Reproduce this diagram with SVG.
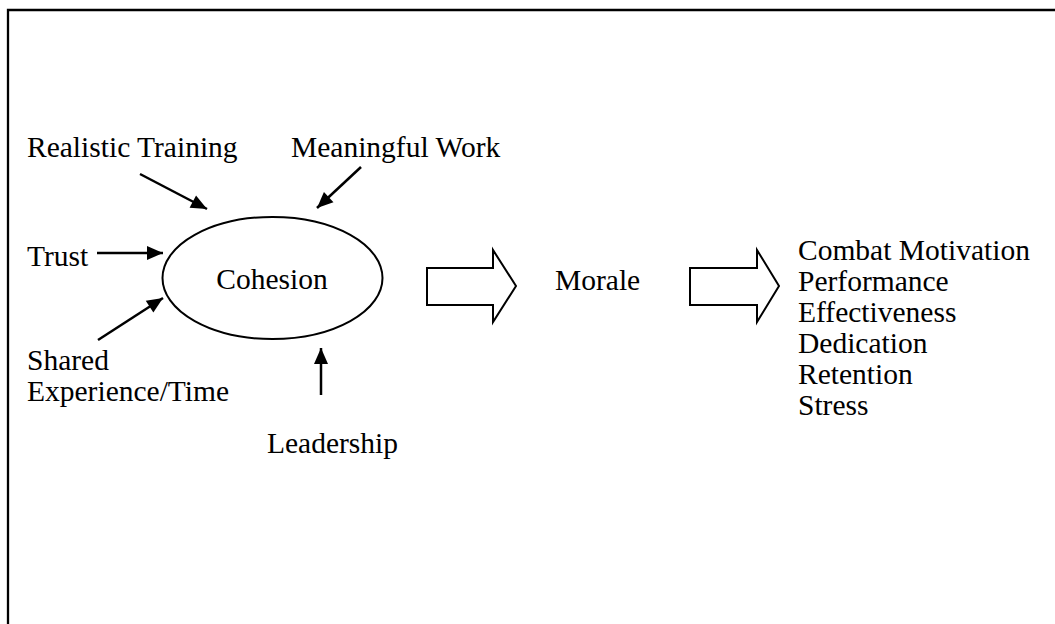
<svg xmlns="http://www.w3.org/2000/svg" width="1055" height="624" viewBox="0 0 1055 624">
  <style>
    text { font-family: "Liberation Serif", "Times New Roman", serif; font-size: 29.5px; fill: #000; }
    .frame { stroke: #000; stroke-width: 2.3; fill: none; }
    .conn { stroke: #000; stroke-width: 2.5; fill: none; marker-end: url(#head); }
    .block { stroke: #000; stroke-width: 2; fill: #fff; stroke-linejoin: miter; }
    .oval { stroke: #000; stroke-width: 2; fill: #fff; }
  </style>
  <defs>
    <marker id="head" markerUnits="userSpaceOnUse" markerWidth="17" markerHeight="14" refX="16" refY="7" orient="auto" overflow="visible">
      <path d="M0,0 L16,7 L0,14 Z" fill="#000"/>
    </marker>
  </defs>
  <rect width="1055" height="624" fill="#fff"/>

  <!-- page frame: top and left edges only -->
  <path class="frame" d="M8,624 L8,10 L1055,10"/>

  <g id="connectors">
    <line class="conn" x1="140" y1="174" x2="207" y2="209"/>
    <line class="conn" x1="361" y1="167" x2="317" y2="208"/>
    <line class="conn" x1="97" y1="253" x2="163" y2="253"/>
    <line class="conn" x1="98" y1="340" x2="163" y2="298"/>
    <line class="conn" x1="321" y1="395" x2="321" y2="348"/>
    <path id="to-morale" class="block" d="M427,268 L493,268 L493,250 L516,286 L493,322 L493,305 L427,305 Z"/>
    <path id="to-outcomes" class="block" d="M690,268 L757,268 L757,250 L779,286 L757,322 L757,305 L690,305 Z"/>
  </g>

  <g id="cohesion">
    <ellipse class="oval" cx="272.5" cy="278" rx="110" ry="61"/>
    <text x="272" y="289" text-anchor="middle">Cohesion</text>
  </g>
  <g id="realistic-training">
    <text x="27" y="157">Realistic Training</text>
  </g>
  <g id="meaningful-work">
    <text x="291" y="157">Meaningful Work</text>
  </g>
  <g id="trust">
    <text x="27" y="266">Trust</text>
  </g>
  <g id="shared-experience">
    <text x="27" y="370">Shared</text>
    <text x="27" y="401">Experience/Time</text>
  </g>
  <g id="leadership">
    <text x="267" y="453">Leadership</text>
  </g>
  <g id="morale">
    <text x="555" y="290">Morale</text>
  </g>
  <g id="outcomes">
    <text x="798" y="260">Combat Motivation</text>
    <text x="798" y="291">Performance</text>
    <text x="798" y="322">Effectiveness</text>
    <text x="798" y="353">Dedication</text>
    <text x="798" y="384">Retention</text>
    <text x="798" y="415">Stress</text>
  </g>
</svg>
